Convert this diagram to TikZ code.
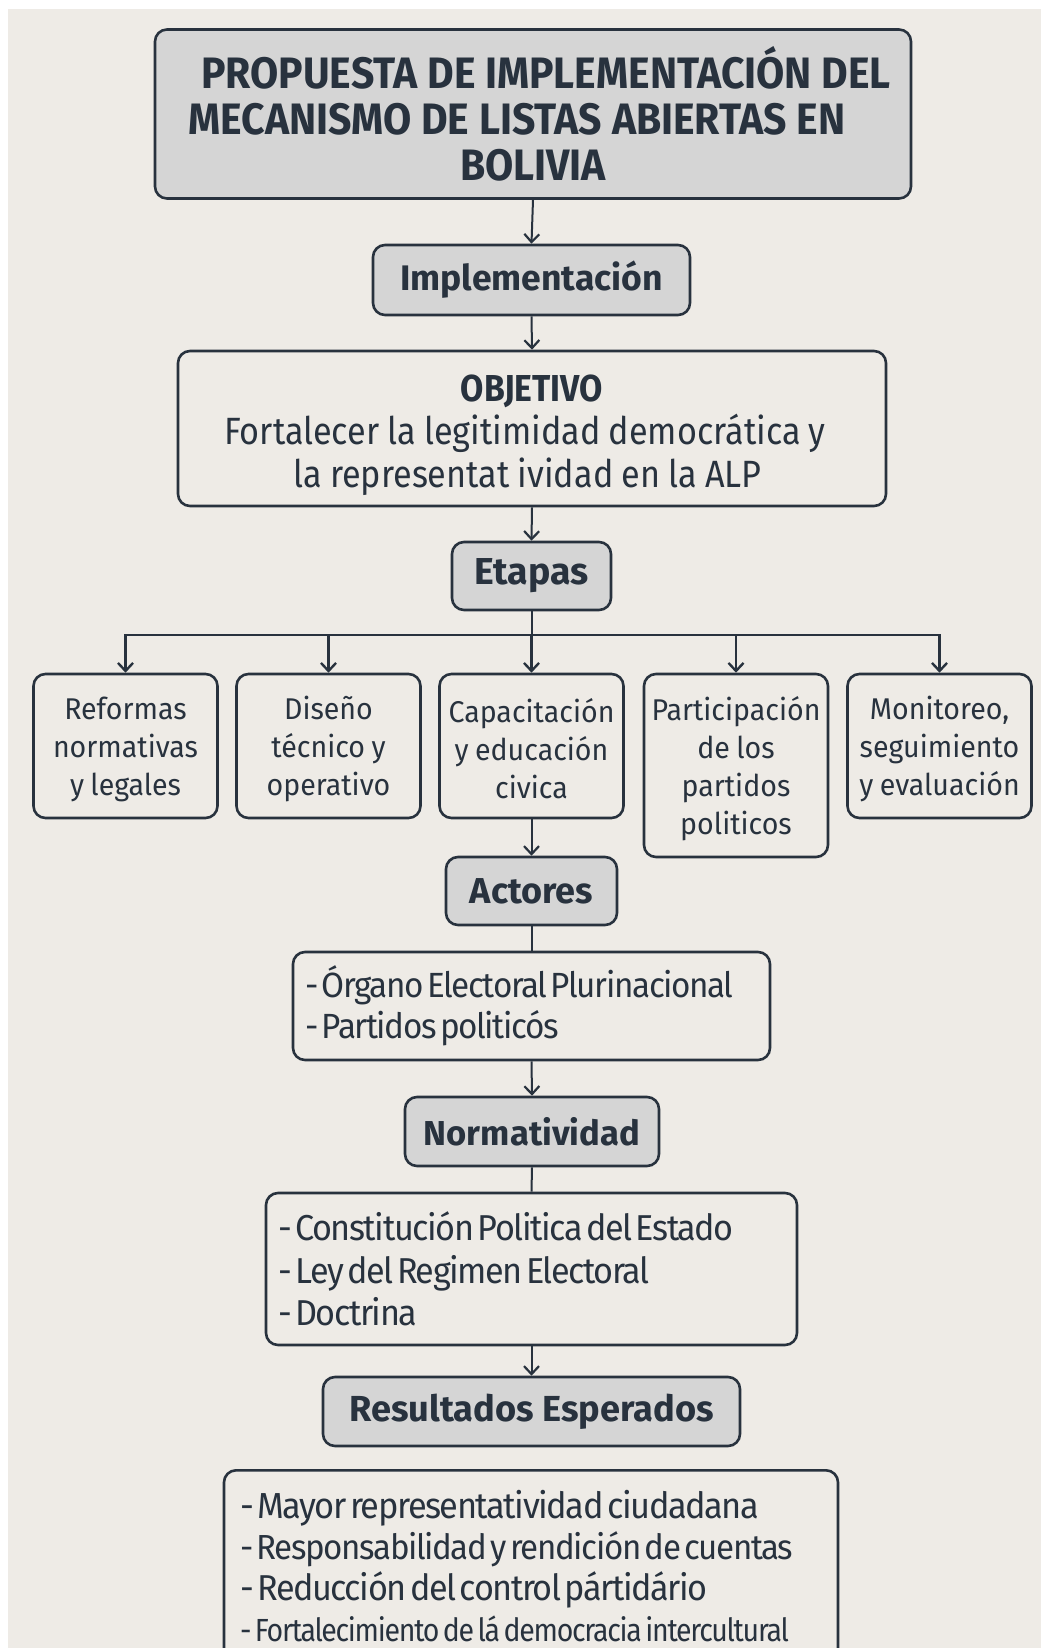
\documentclass[tikz,border=0pt]{standalone}
\usepackage{fontspec}
\setmainfont{Fira Sans}
\newfontfamily\regfont[FakeStretch=0.952,WordSpace=0.85]{Fira Sans}
\newfontfamily\objfont[FakeStretch=0.90,WordSpace=0.9]{Fira Sans}
\newfontfamily\listfont[FakeStretch=0.95,LetterSpace=-4]{Fira Sans}
\newfontfamily\condfont[FakeStretch=0.89,LetterSpace=-4]{Fira Sans}
\newfontfamily\titlefont[FakeStretch=0.93]{Fira Sans}
\usetikzlibrary{arrows.meta}
\definecolor{bgc}{HTML}{EEEBE6}
\definecolor{ink}{HTML}{28323E}
\definecolor{hdr}{HTML}{D5D5D5}
\tikzset{
 box/.style={draw=ink, line width=2.6pt, rounded corners=12pt, text=ink, inner sep=0pt, align=center},
 hbox/.style={box, fill=hdr},
 stagebox/.style={box, minimum width=184pt, minimum height=144pt, font=\regfont\fontsize{30}{38}\selectfont},
 listbox/.style={box, align=left},
 conn/.style={draw=ink, line width=2pt},
 arr/.style={conn, -{Straight Barb[length=8pt,width=15pt,line width=2.2pt]}},
 barr/.style={draw=ink, line width=2.6pt, rounded corners=0pt, -{Straight Barb[length=8pt,width=15pt,line width=2.4pt]}},
}
\newcommand{\hf}[1]{\bfseries\fontsize{#1}{#1}\selectfont}
\newcommand{\fs}[1]{\fontsize{#1}{41}\selectfont}
\newcommand{\tightsp}{\spaceskip=3.5pt\relax}
\begin{document}
\begin{tikzpicture}[x=1pt,y=-1pt]
\useasboundingbox (0,0) rectangle (1041,1648);
\clip (0,0) rectangle (1041,1648);
\fill[white] (0,0) rectangle (1041,1648);
\fill[bgc] (8,9) rectangle (1041,1648);

\node[hbox, minimum width=756pt, minimum height=169pt, font=\titlefont\bfseries\fontsize{44}{46}\selectfont] (title) at (533,114)
 {\hspace*{26pt}PROPUESTA DE IMPLEMENTACIÓN DEL\\MECANISMO DE LISTAS ABIERTAS EN\hspace*{32pt}\mbox{}\\BOLIVIA};

\node[hbox, minimum width=317pt, minimum height=70pt, font=\hf{35.5}] (impl) at (531.5,280) {Implementación};

\node[box, minimum width=708pt, minimum height=155pt, font=\objfont\fontsize{38}{43}\selectfont] (obj) at (532,428.5)
 {\rule{0pt}{40pt}{\hf{37.5}OBJETIVO}\\Fortalecer la legitimidad democrática y\hspace*{14pt}\mbox{}\\la representat ividad en la ALP\hspace*{9pt}\mbox{}};

\node[hbox, minimum width=159pt, minimum height=68pt, font=\hf{37.5}] (etapas) at (531.5,576) {Etapas};

\coordinate (bar) at (531.5,635);

\node[stagebox] (s1) at (125.5,746) {\rule{0pt}{30pt}Reformas\\normativas\\y legales};
\node[stagebox] (s2) at (328.5,746) {\rule{0pt}{30pt}Diseño\\técnico y\\operativo};
\node[stagebox] (s3) at (531.5,746) {\rule{0pt}{30pt}Capacitación\\y educación\\civica};
\node[stagebox, minimum height=183pt] (s4) at (736,765.5) {\rule{0pt}{30pt}Participación\\de los\\partidos\\politicos};
\node[stagebox] (s5) at (939.5,746) {\rule{0pt}{30pt}Monitoreo,\\seguimiento\\y evaluación};

\node[hbox, minimum width=171pt, minimum height=68pt, font=\hf{36}] (act) at (531.5,891) {Actores};

\node[listbox, minimum width=477pt, minimum height=108pt, text width=453pt, font=\listfont\fontsize{35}{41}\selectfont] (actlist) at (531.5,1006)
 {\tightsp\mbox{- Órgano Electoral Plurinacional}\\\mbox{- Partidos politicós}};

\node[hbox, minimum width=254pt, minimum height=69pt, font=\hf{34.6}] (norm) at (532,1131.5) {Normatividad};

\node[listbox, minimum width=531pt, minimum height=152pt, text width=507pt, font=\listfont\fontsize{36}{42.5}\selectfont] (normlist) at (531.5,1269)
 {\tightsp\mbox{- Constitución Politica del Estado}\\\mbox{- Ley del Regimen Electoral}\\\mbox{- Doctrina}};

\node[hbox, minimum width=417pt, minimum height=69pt, font=\hf{36.2}] (res) at (531.5,1411.5) {Resultados Esperados};

\node[listbox, anchor=north, minimum width=614pt, minimum height=192pt, text width=582pt, font=\listfont\fontsize{35.2}{41}\selectfont] (reslist) at (531,1469)
 {\tightsp\mbox{\fs{36.2}- Mayor representatividad ciudadana}\\\mbox{\fs{34.8}- Responsabilidad y rendición de cuentas}\\\mbox{\fs{36}- Reducción del control pártidário}\\\mbox{\condfont\fs{32}- Fortalecimiento de lá democracia intercultural}};

\draw[arr] (title.south) -- (impl.north);
\draw[arr] (impl.south) -- (obj.north);
\draw[arr] (obj.south) -- (etapas.north);
\draw[conn] (etapas.south) -- (bar);
\foreach \s in {s1,s2,s3,s4,s5}{
  \draw[barr] (bar) -| (\s.north);
}
\draw[arr] (s3.south) -- (act.north);
\draw[conn] (act.south) -- (actlist.north);
\draw[arr] (actlist.south) -- (norm.north);
\draw[conn] (norm.south) -- (normlist.north);
\draw[arr] (normlist.south) -- (res.north);
\end{tikzpicture}
\end{document}
